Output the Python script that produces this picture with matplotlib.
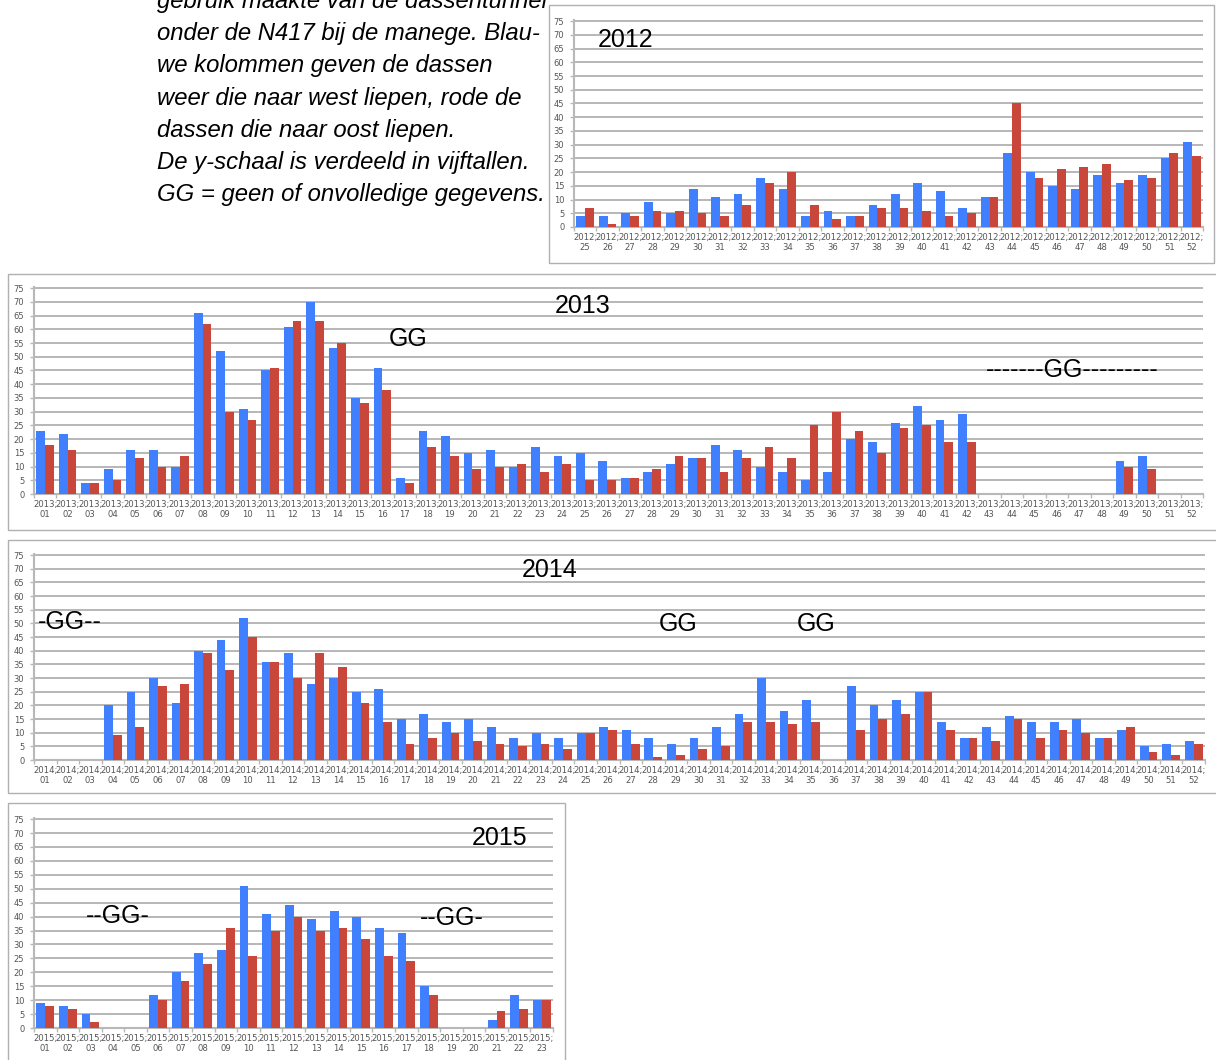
import numpy as np
import matplotlib
matplotlib.use("Agg")
import matplotlib.pyplot as plt
from matplotlib.patches import Rectangle

# ---------------- data ----------------
weeks_2012 = ["25", "26", "27", "28", "29", "30", "31", "32", "33", "34", "35", "36", "37", "38",
              "39", "40", "41", "42", "43", "44", "45", "46", "47", "48", "49", "50", "51", "52"]
west_2012 = [4, 4, 5, 9, 5, 14, 11, 12, 18, 14, 4, 6, 4, 8, 12, 16, 13, 7, 11, 27, 20, 15, 14, 19, 16, 19, 25, 31]
oost_2012 = [7, 1, 4, 6, 6, 5, 4, 8, 16, 20, 8, 3, 4, 7, 7, 6, 4, 5, 11, 45, 18, 21, 22, 23, 17, 18, 27, 26]

weeks_2013 = ["01", "02", "03", "04", "05", "06", "07", "08", "09", "10", "11", "12", "13",
              "14", "15", "16", "17", "18", "19", "20", "21", "22", "23", "24", "25", "26",
              "27", "28", "29", "30", "31", "32", "33", "34", "35", "36", "37", "38", "39",
              "40", "41", "42", "43", "44", "45", "46", "47", "48", "49", "50", "51", "52"]
west_2013 = [23, 22, 4, 9, 16, 16, 10, 66, 52, 31, 45, 61, 70, 53, 35, 46, 6, 23, 21, 15, 16,
             10, 17, 14, 15, 12, 6, 8, 11, 13, 18, 16, 10, 8, 5, 8, 20, 19, 26, 32, 27, 29,
             None, None, None, None, None, None, 12, 14, None, None]
oost_2013 = [18, 16, 4, 5, 13, 10, 14, 62, 30, 27, 46, 63, 63, 55, 33, 38, 4, 17, 14, 9, 10,
             11, 8, 11, 5, 5, 6, 9, 14, 13, 8, 13, 17, 13, 25, 30, 23, 15, 24, 25, 19, 19,
             None, None, None, None, None, None, 10, 9, None, None]

weeks_2014 = list(weeks_2013)
west_2014 = [None, None, None, 20, 25, 30, 21, 40, 44, 52, 36, 39, 28, 30, 25, 26, 15, 17, 14,
             15, 12, 8, 10, 8, 10, 12, 11, 8, 6, 8, 12, 17, 30, 18, 22, None, 27, 20, 22, 25,
             14, 8, 12, 16, 14, 14, 15, 8, 11, 5, 6, 7]
oost_2014 = [None, None, None, 9, 12, 27, 28, 39, 33, 45, 36, 30, 39, 34, 21, 14, 6, 8, 10,
             7, 6, 5, 6, 4, 10, 11, 6, 1, 2, 4, 5, 14, 14, 13, 14, None, 11, 15, 17, 25,
             11, 8, 7, 15, 8, 11, 10, 8, 12, 3, 2, 6]

weeks_2015 = ["01", "02", "03", "04", "05", "06", "07", "08", "09", "10", "11", "12",
              "13", "14", "15", "16", "17", "18", "19", "20", "21", "22", "23"]
west_2015 = [9, 8, 5, None, None, 12, 20, 27, 28, 51, 41, 44, 39, 42, 40, 36, 34, 15, None, None, 3, 12, 10]
oost_2015 = [8, 7, 2, None, None, 10, 17, 23, 36, 26, 35, 40, 35, 36, 32, 26, 24, 12, None, None, 6, 7, 10]

intro_lines = ["gebruik maakte van de dassentunnel",
               "onder de N417 bij de manege. Blau-",
               "we kolommen geven de dassen",
               "weer die naar west liepen, rode de",
               "dassen die naar oost liepen.",
               "De y-schaal is verdeeld in vijftallen.",
               "GG = geen of onvolledige gegevens."]

# ---------------- style ----------------
W, H = 1216, 1060
BLUE = "#4080ff"
RED = "#c8463a"
GRID = "#aaaaaa"
AXC = "#b8b8b8"
LBL = "#555555"
BOXC = "#b0b0b0"

fig = plt.figure(figsize=(W / 100, H / 100), dpi=100)
fig.patch.set_facecolor("white")


def frect(x0, y0, x1, y1):
    return [x0 / W, 1 - y1 / H, (x1 - x0) / W, (y1 - y0) / H]


def ftext(x, y, s, **kw):
    fig.text(x / W, 1 - y / H, s, **kw)


# intro text (drawn beneath the 2012 panel box; its first line is cut by the top edge as in the source)
base_y = [8, 40.2, 72.4, 104.6, 136.8, 169, 201.2]
for yb, line in zip(base_y, intro_lines):
    ftext(157, yb, line, fontsize=17.2, style="italic", family="Liberation Sans",
          ha="left", va="baseline", color="black", zorder=-2)

# panel boxes
boxes = [(549, 5, 1214, 263), (8, 274, 1222, 530), (8, 540, 1222, 793), (8, 803, 565, 1070)]
for x0, y0, x1, y1 in boxes:
    fig.add_artist(Rectangle((x0 / W, 1 - y1 / H), (x1 - x0) / W, (y1 - y0) / H,
                             transform=fig.transFigure, facecolor="white",
                             edgecolor=BOXC, lw=1.0, zorder=-1))


def panel(year, weeks, west, oost, px):
    ax = fig.add_axes(frect(*px), zorder=1)
    ax.set_facecolor("none")
    n = len(weeks)
    x = np.arange(n)
    b = np.array([np.nan if v is None else v for v in west], float)
    r = np.array([np.nan if v is None else v for v in oost], float)
    mb = ~np.isnan(b)
    mr = ~np.isnan(r)
    ax.bar(x[mb] - 0.195, b[mb], 0.39, color=BLUE, zorder=3)
    ax.bar(x[mr] + 0.195, r[mr], 0.39, color=RED, zorder=3)
    ax.set_xlim(-0.5, n - 0.5)
    ax.set_ylim(0, 75.4)
    ax.set_yticks(range(0, 76, 5))
    ax.yaxis.grid(True, color=GRID, lw=1.2, zorder=0)
    ax.set_axisbelow(True)
    ax.set_xticks(x)
    ax.set_xticklabels([f"{year};\n{w}" for w in weeks], fontsize=6.1,
                       linespacing=1.2, color=LBL, family="DejaVu Sans")
    ax.set_xticks(np.arange(n + 1) - 0.5, minor=True)
    ax.tick_params(axis="x", which="major", length=0, pad=4)
    ax.tick_params(axis="x", which="minor", length=3, color=AXC, width=1)
    ax.tick_params(axis="y", length=3, color=AXC, width=1, labelsize=6,
                   labelcolor=LBL, pad=4)
    for s in ("top", "right"):
        ax.spines[s].set_visible(False)
    for s in ("left", "bottom"):
        ax.spines[s].set_color(AXC)
        ax.spines[s].set_linewidth(1.5)
    return ax


panel("2012", weeks_2012, west_2012, oost_2012, (574, 20, 1203, 227))
panel("2013", weeks_2013, west_2013, oost_2013, (34, 287, 1203, 494))
panel("2014", weeks_2014, west_2014, oost_2014, (34, 554, 1205, 760))
panel("2015", weeks_2015, west_2015, oost_2015, (34, 818, 553, 1028))

# annotations
ann = dict(fontsize=18, family="Liberation Sans", ha="center", va="center", color="black", zorder=5)
ftext(626, 40, "2012", **ann)
ftext(583, 306, "2013", **ann)
ftext(408, 339, "GG", **ann)
ftext(1072, 370, "-------GG---------", **ann)
ftext(550, 570, "2014", **ann)
ftext(70, 622, "-GG--", **ann)
ftext(678, 624, "GG", **ann)
ftext(816, 624, "GG", **ann)
ftext(500, 838, "2015", **ann)
ftext(118, 916, "--GG-", **ann)
ftext(452, 918, "--GG-", **ann)

fig.savefig("out.png", dpi=100, facecolor="white")
